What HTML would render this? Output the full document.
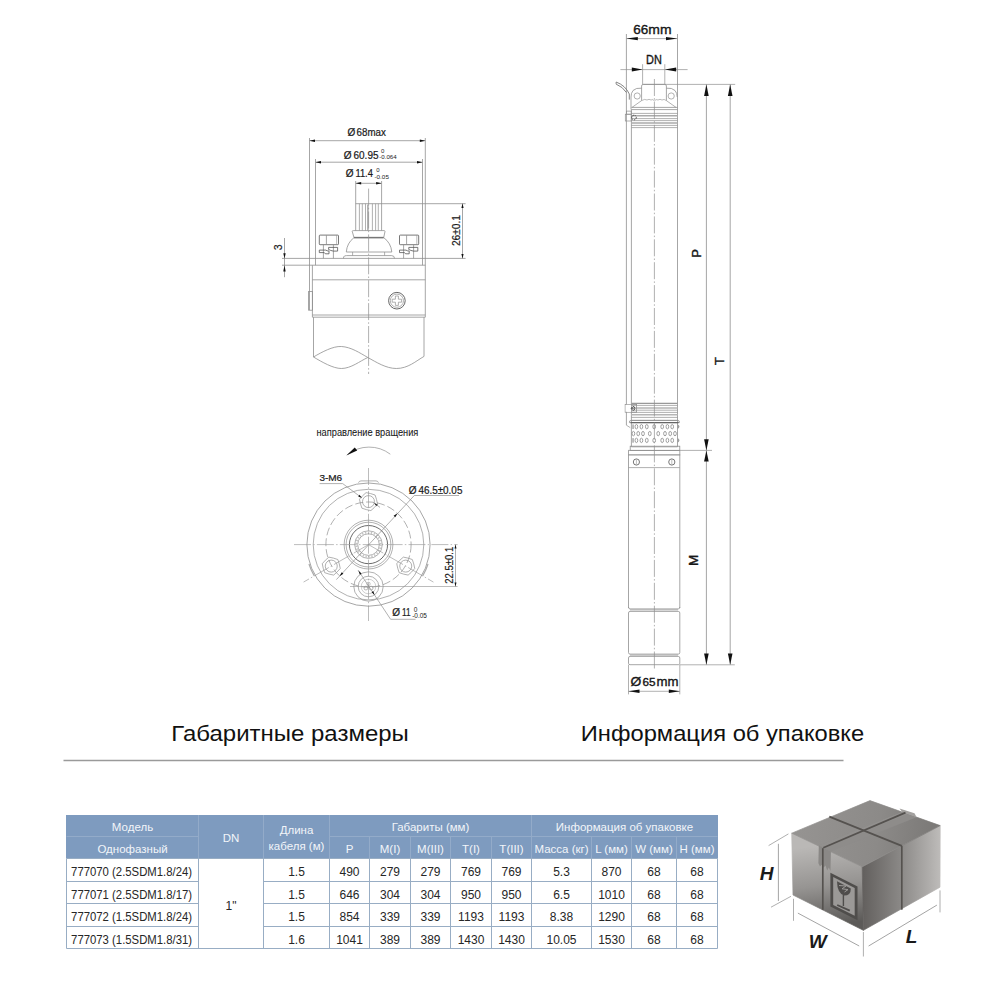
<!DOCTYPE html>
<html><head><meta charset="utf-8"><style>
html,body{margin:0;padding:0;background:#fff;width:1000px;height:1000px;overflow:hidden}
svg{position:absolute;left:0;top:0;font-family:"Liberation Sans",sans-serif}
.h{fill:#f2f5f9;font-size:11.5px;text-anchor:middle}
.b{fill:#262626;font-size:12px;text-anchor:middle}
.ttl{fill:#111;font-size:22.5px}
.d{fill:#1a1a1a}
.it{font-style:italic}
.hv{stroke:#1a1a1a;stroke-width:0.2}
.hv1{stroke:#1a1a1a;stroke-width:0.08}
.hv2{stroke:#111;stroke-width:0.35}
</style></head><body>
<svg width="1000" height="1000" viewBox="0 0 1000 1000">
<text x="171.3" y="741" class="ttl" textLength="237.5" lengthAdjust="spacingAndGlyphs">Габаритные размеры</text>
<text x="580.8" y="741" class="ttl" textLength="283.4" lengthAdjust="spacingAndGlyphs">Информация об упаковке</text>
<line x1="63.5" y1="760.5" x2="843.5" y2="760.5" stroke="#9a9a9a" stroke-width="1.4"/>
<rect x="66" y="815" width="652" height="43.5" fill="#7e9bbf"/>
<line x1="66.5" y1="836.5" x2="198.5" y2="836.5" stroke="#93abc9" stroke-width="1"/>
<line x1="329.5" y1="836.5" x2="717.5" y2="836.5" stroke="#93abc9" stroke-width="1"/>
<line x1="198.5" y1="815" x2="198.5" y2="858.5" stroke="#93abc9" stroke-width="1"/>
<line x1="263.5" y1="815" x2="263.5" y2="858.5" stroke="#93abc9" stroke-width="1"/>
<line x1="329.5" y1="815" x2="329.5" y2="858.5" stroke="#93abc9" stroke-width="1"/>
<line x1="531.5" y1="815" x2="531.5" y2="858.5" stroke="#93abc9" stroke-width="1"/>
<line x1="369.5" y1="836.5" x2="369.5" y2="858.5" stroke="#93abc9" stroke-width="1"/>
<line x1="410.5" y1="836.5" x2="410.5" y2="858.5" stroke="#93abc9" stroke-width="1"/>
<line x1="450.5" y1="836.5" x2="450.5" y2="858.5" stroke="#93abc9" stroke-width="1"/>
<line x1="491.5" y1="836.5" x2="491.5" y2="858.5" stroke="#93abc9" stroke-width="1"/>
<line x1="591.5" y1="836.5" x2="591.5" y2="858.5" stroke="#93abc9" stroke-width="1"/>
<line x1="631.5" y1="836.5" x2="631.5" y2="858.5" stroke="#93abc9" stroke-width="1"/>
<line x1="676.5" y1="836.5" x2="676.5" y2="858.5" stroke="#93abc9" stroke-width="1"/>
<line x1="66.5" y1="858.5" x2="717.5" y2="858.5" stroke="#98adc4" stroke-width="1"/>
<line x1="66.5" y1="881.5" x2="198.5" y2="881.5" stroke="#98adc4" stroke-width="1"/>
<line x1="263.5" y1="881.5" x2="717.5" y2="881.5" stroke="#98adc4" stroke-width="1"/>
<line x1="66.5" y1="903.5" x2="198.5" y2="903.5" stroke="#98adc4" stroke-width="1"/>
<line x1="263.5" y1="903.5" x2="717.5" y2="903.5" stroke="#98adc4" stroke-width="1"/>
<line x1="66.5" y1="926.5" x2="198.5" y2="926.5" stroke="#98adc4" stroke-width="1"/>
<line x1="263.5" y1="926.5" x2="717.5" y2="926.5" stroke="#98adc4" stroke-width="1"/>
<line x1="66.5" y1="948.5" x2="717.5" y2="948.5" stroke="#98adc4" stroke-width="1"/>
<line x1="66.5" y1="858.5" x2="66.5" y2="948.5" stroke="#98adc4" stroke-width="1"/>
<line x1="198.5" y1="858.5" x2="198.5" y2="948.5" stroke="#98adc4" stroke-width="1"/>
<line x1="263.5" y1="858.5" x2="263.5" y2="948.5" stroke="#98adc4" stroke-width="1"/>
<line x1="329.5" y1="858.5" x2="329.5" y2="948.5" stroke="#98adc4" stroke-width="1"/>
<line x1="369.5" y1="858.5" x2="369.5" y2="948.5" stroke="#98adc4" stroke-width="1"/>
<line x1="410.5" y1="858.5" x2="410.5" y2="948.5" stroke="#98adc4" stroke-width="1"/>
<line x1="450.5" y1="858.5" x2="450.5" y2="948.5" stroke="#98adc4" stroke-width="1"/>
<line x1="491.5" y1="858.5" x2="491.5" y2="948.5" stroke="#98adc4" stroke-width="1"/>
<line x1="531.5" y1="858.5" x2="531.5" y2="948.5" stroke="#98adc4" stroke-width="1"/>
<line x1="591.5" y1="858.5" x2="591.5" y2="948.5" stroke="#98adc4" stroke-width="1"/>
<line x1="631.5" y1="858.5" x2="631.5" y2="948.5" stroke="#98adc4" stroke-width="1"/>
<line x1="676.5" y1="858.5" x2="676.5" y2="948.5" stroke="#98adc4" stroke-width="1"/>
<line x1="717.5" y1="858.5" x2="717.5" y2="948.5" stroke="#98adc4" stroke-width="1"/>
<text x="132.5" y="830.8" class="h">Модель</text>
<text x="132.5" y="852.5" class="h">Однофазный</text>
<text x="231.0" y="841.8" class="h">DN</text>
<text x="296.5" y="834.4" class="h">Длина</text>
<text x="296.5" y="849.8" class="h">кабеля (м)</text>
<text x="430.5" y="830.8" class="h">Габариты (мм)</text>
<text x="624.5" y="830.8" class="h">Информация об упаковке</text>
<text x="349.5" y="852.5" class="h">P</text>
<text x="390.0" y="852.5" class="h">M(I)</text>
<text x="430.5" y="852.5" class="h">M(III)</text>
<text x="471.0" y="852.5" class="h">T(I)</text>
<text x="511.5" y="852.5" class="h">T(III)</text>
<text x="561.5" y="852.5" class="h">Масса (кг)</text>
<text x="611.5" y="852.5" class="h">L (мм)</text>
<text x="654.0" y="852.5" class="h">W (мм)</text>
<text x="697.0" y="852.5" class="h">H (мм)</text>
<text x="71.1" y="876.2" class="b" style="text-anchor:start" textLength="121" lengthAdjust="spacingAndGlyphs">777070 (2.5SDM1.8/24)</text>
<text x="296.5" y="876.2" class="b">1.5</text>
<text x="349.5" y="876.2" class="b">490</text>
<text x="390.0" y="876.2" class="b">279</text>
<text x="430.5" y="876.2" class="b">279</text>
<text x="471.0" y="876.2" class="b">769</text>
<text x="511.5" y="876.2" class="b">769</text>
<text x="561.5" y="876.2" class="b">5.3</text>
<text x="611.5" y="876.2" class="b">870</text>
<text x="654.0" y="876.2" class="b">68</text>
<text x="697.0" y="876.2" class="b">68</text>
<text x="71.1" y="898.7" class="b" style="text-anchor:start" textLength="121" lengthAdjust="spacingAndGlyphs">777071 (2.5SDM1.8/17)</text>
<text x="296.5" y="898.7" class="b">1.5</text>
<text x="349.5" y="898.7" class="b">646</text>
<text x="390.0" y="898.7" class="b">304</text>
<text x="430.5" y="898.7" class="b">304</text>
<text x="471.0" y="898.7" class="b">950</text>
<text x="511.5" y="898.7" class="b">950</text>
<text x="561.5" y="898.7" class="b">6.5</text>
<text x="611.5" y="898.7" class="b">1010</text>
<text x="654.0" y="898.7" class="b">68</text>
<text x="697.0" y="898.7" class="b">68</text>
<text x="71.1" y="921.2" class="b" style="text-anchor:start" textLength="121" lengthAdjust="spacingAndGlyphs">777072 (1.5SDM1.8/24)</text>
<text x="296.5" y="921.2" class="b">1.5</text>
<text x="349.5" y="921.2" class="b">854</text>
<text x="390.0" y="921.2" class="b">339</text>
<text x="430.5" y="921.2" class="b">339</text>
<text x="471.0" y="921.2" class="b">1193</text>
<text x="511.5" y="921.2" class="b">1193</text>
<text x="561.5" y="921.2" class="b">8.38</text>
<text x="611.5" y="921.2" class="b">1290</text>
<text x="654.0" y="921.2" class="b">68</text>
<text x="697.0" y="921.2" class="b">68</text>
<text x="71.1" y="943.7" class="b" style="text-anchor:start" textLength="121" lengthAdjust="spacingAndGlyphs">777073 (1.5SDM1.8/31)</text>
<text x="296.5" y="943.7" class="b">1.6</text>
<text x="349.5" y="943.7" class="b">1041</text>
<text x="390.0" y="943.7" class="b">389</text>
<text x="430.5" y="943.7" class="b">389</text>
<text x="471.0" y="943.7" class="b">1430</text>
<text x="511.5" y="943.7" class="b">1430</text>
<text x="561.5" y="943.7" class="b">10.05</text>
<text x="611.5" y="943.7" class="b">1530</text>
<text x="654.0" y="943.7" class="b">68</text>
<text x="697.0" y="943.7" class="b">68</text>
<text x="231.0" y="909.7" class="b">1"</text>
<line x1="309.50" y1="140.70" x2="425.30" y2="140.70" stroke="#8f8f8f" stroke-width="0.8" />
<polygon points="309.50,140.70 315.00,139.40 315.00,142.00" fill="#111"/>
<polygon points="425.30,140.70 419.80,142.00 419.80,139.40" fill="#111"/>
<line x1="315.50" y1="162.20" x2="422.50" y2="162.20" stroke="#8f8f8f" stroke-width="0.8" />
<polygon points="315.50,162.20 321.00,160.90 321.00,163.50" fill="#111"/>
<polygon points="422.50,162.20 417.00,163.50 417.00,160.90" fill="#111"/>
<line x1="355.70" y1="183.30" x2="381.60" y2="183.30" stroke="#8f8f8f" stroke-width="0.8" />
<polygon points="355.70,183.30 361.20,182.00 361.20,184.60" fill="#111"/>
<polygon points="381.60,183.30 376.10,184.60 376.10,182.00" fill="#111"/>
<line x1="309.50" y1="138.00" x2="309.50" y2="310.00" stroke="#8f8f8f" stroke-width="0.8" />
<line x1="315.50" y1="159.00" x2="315.50" y2="265.20" stroke="#8f8f8f" stroke-width="0.8" />
<line x1="312.40" y1="265.20" x2="312.40" y2="317.20" stroke="#8f8f8f" stroke-width="0.8" />
<line x1="422.50" y1="159.00" x2="422.50" y2="265.20" stroke="#8f8f8f" stroke-width="0.8" />
<line x1="425.30" y1="138.00" x2="425.30" y2="317.20" stroke="#8f8f8f" stroke-width="0.8" />
<rect x="308.60" y="291.50" width="3.80" height="18.70" rx="0" stroke="#8f8f8f" stroke-width="0.8" fill="none"/>
<line x1="355.70" y1="181.00" x2="355.70" y2="230.60" stroke="#8f8f8f" stroke-width="0.8" />
<line x1="381.60" y1="181.00" x2="381.60" y2="230.60" stroke="#8f8f8f" stroke-width="0.8" />
<line x1="355.70" y1="203.70" x2="465.60" y2="203.70" stroke="#8f8f8f" stroke-width="0.8" />
<line x1="359.40" y1="203.70" x2="359.40" y2="230.60" stroke="#8f8f8f" stroke-width="0.7" />
<line x1="362.30" y1="203.70" x2="362.30" y2="230.60" stroke="#8f8f8f" stroke-width="0.7" />
<line x1="365.50" y1="203.70" x2="365.50" y2="230.60" stroke="#8f8f8f" stroke-width="0.7" />
<line x1="372.40" y1="203.70" x2="372.40" y2="230.60" stroke="#8f8f8f" stroke-width="0.7" />
<line x1="375.60" y1="203.70" x2="375.60" y2="230.60" stroke="#8f8f8f" stroke-width="0.7" />
<line x1="378.30" y1="203.70" x2="378.30" y2="230.60" stroke="#8f8f8f" stroke-width="0.7" />
<line x1="367.90" y1="204.50" x2="367.90" y2="230.60" stroke="#aaa" stroke-width="1.6" />
<path d="M352.2,231.2 Q352.2,230.6 353.5,230.6 L384,230.6 Q385,230.6 385,231.5 L383.7,237.6 L354,237.6 Z" stroke="#8f8f8f" stroke-width="0.8" fill="none" />
<line x1="354.00" y1="237.60" x2="383.70" y2="237.60" stroke="#777" stroke-width="1.5" />
<path d="M354,237.6 Q347,243 346.3,252 L391.8,252 Q391,243 383.7,237.6" stroke="#8f8f8f" stroke-width="0.8" fill="none" />
<line x1="352.60" y1="252.00" x2="352.60" y2="255.60" stroke="#8f8f8f" stroke-width="0.7" />
<line x1="384.60" y1="252.00" x2="384.60" y2="255.60" stroke="#8f8f8f" stroke-width="0.7" />
<path d="M343.6,258.4 L343.6,257 Q344,255.6 346.5,255.6 L391.6,255.6 Q394.5,255.6 394.5,258.4" stroke="#8f8f8f" stroke-width="0.8" fill="none" />
<rect x="319.30" y="235.10" width="19.20" height="9.60" rx="0.8" stroke="#555" stroke-width="0.8" fill="none"/>
<line x1="326.40" y1="235.10" x2="326.40" y2="244.70" stroke="#8f8f8f" stroke-width="0.8" />
<line x1="336.60" y1="235.10" x2="336.60" y2="244.70" stroke="#8f8f8f" stroke-width="0.6" />
<line x1="323.40" y1="244.70" x2="323.40" y2="258.40" stroke="#8f8f8f" stroke-width="0.8" />
<line x1="333.40" y1="244.70" x2="333.40" y2="258.40" stroke="#8f8f8f" stroke-width="0.8" />
<path d="M319.30,250.1 L325.80,250.1 Q326.80,251 329.00,251 L329.00,253.8 L325.30,253.8 L324.30,252.6 L319.30,252.6 Z" stroke="#555" stroke-width="0.8" fill="none" />
<path d="M328.60,247.4 L337.60,247.4 L337.60,251.1 L333.30,251.1 Q330.30,250.5 328.60,249.5 Z" stroke="#555" stroke-width="0.8" fill="none" />
<rect x="399.50" y="235.10" width="19.20" height="9.60" rx="0.8" stroke="#555" stroke-width="0.8" fill="none"/>
<line x1="406.60" y1="235.10" x2="406.60" y2="244.70" stroke="#8f8f8f" stroke-width="0.8" />
<line x1="416.80" y1="235.10" x2="416.80" y2="244.70" stroke="#8f8f8f" stroke-width="0.6" />
<line x1="403.60" y1="244.70" x2="403.60" y2="258.40" stroke="#8f8f8f" stroke-width="0.8" />
<line x1="413.60" y1="244.70" x2="413.60" y2="258.40" stroke="#8f8f8f" stroke-width="0.8" />
<path d="M399.50,250.1 L406.00,250.1 Q407.00,251 409.20,251 L409.20,253.8 L405.50,253.8 L404.50,252.6 L399.50,252.6 Z" stroke="#555" stroke-width="0.8" fill="none" />
<path d="M408.80,247.4 L417.80,247.4 L417.80,251.1 L413.50,251.1 Q410.50,250.5 408.80,249.5 Z" stroke="#555" stroke-width="0.8" fill="none" />
<line x1="282.00" y1="258.40" x2="465.60" y2="258.40" stroke="#8f8f8f" stroke-width="0.8" />
<line x1="282.00" y1="265.20" x2="425.30" y2="265.20" stroke="#8f8f8f" stroke-width="0.8" />
<line x1="284.50" y1="238.00" x2="284.50" y2="277.20" stroke="#8f8f8f" stroke-width="0.8" />
<polygon points="284.50,258.40 283.30,253.20 285.70,253.20" fill="#111"/>
<polygon points="284.50,265.20 285.70,271.60 283.30,271.60" fill="#111"/>
<text x="281.80" y="247.30" font-size="10.5" class="d hv" text-anchor="middle" transform="rotate(-90 281.80 247.30)">3</text>
<line x1="462.50" y1="203.40" x2="462.50" y2="258.40" stroke="#8f8f8f" stroke-width="0.8" />
<polygon points="462.50,203.40 463.60,207.90 461.40,207.90" fill="#111"/>
<polygon points="462.50,258.40 461.40,253.90 463.60,253.90" fill="#111"/>
<text x="459.60" y="230.60" font-size="10.5" class="d hv" text-anchor="middle" textLength="31" lengthAdjust="spacingAndGlyphs" transform="rotate(-90 459.60 230.60)">26±0.1</text>
<line x1="312.40" y1="279.80" x2="425.30" y2="279.80" stroke="#8f8f8f" stroke-width="0.8" />
<line x1="312.40" y1="315.00" x2="425.30" y2="315.00" stroke="#8f8f8f" stroke-width="0.8" />
<line x1="312.40" y1="317.20" x2="425.30" y2="317.20" stroke="#8f8f8f" stroke-width="0.8" />
<line x1="313.50" y1="317.20" x2="313.50" y2="357.00" stroke="#8f8f8f" stroke-width="0.8" />
<line x1="424.00" y1="317.20" x2="424.00" y2="356.40" stroke="#8f8f8f" stroke-width="0.8" />
<path d="M313.5,357 C322,352 333,346 341.4,346.5 C351,347 360,353 367.8,357.5 C376,362 386,368.5 396.4,368.5 C408,368.5 416,361 424,356.4" stroke="#8f8f8f" stroke-width="0.8" fill="none" />
<path d="M313.5,357 C322,362 333,368.5 341.4,368.5 C351,368.5 360,361 367.8,357.5" stroke="#8f8f8f" stroke-width="0.8" fill="none" />
<circle cx="396.90" cy="300.70" r="8.30" stroke="#555" stroke-width="0.9" fill="none" />
<circle cx="396.90" cy="300.70" r="6.60" stroke="#8f8f8f" stroke-width="0.7" fill="none" />
<path d="M395.4,296 L398.4,296 L398.4,299.2 L401.6,299.2 L401.6,302.2 L398.4,302.2 L398.4,305.4 L395.4,305.4 L395.4,302.2 L392.2,302.2 L392.2,299.2 L395.4,299.2 Z" stroke="#8f8f8f" stroke-width="0.7" fill="none" />
<line x1="368.60" y1="188.60" x2="368.60" y2="374.00" stroke="#8f8f8f" stroke-width="0.7" stroke-dasharray="17 2.2 1.5 2.2"/>
<text x="347.40" y="136.40" font-size="10" class="d hv">Ø</text>
<text x="356.60" y="136.40" font-size="10" class="d hv" textLength="29.3" lengthAdjust="spacingAndGlyphs">68max</text>
<text x="343.70" y="158.50" font-size="10" class="d hv">Ø</text>
<text x="353.50" y="158.50" font-size="10.5" class="d hv" textLength="25" lengthAdjust="spacingAndGlyphs">60.95</text>
<text x="381.00" y="153.10" font-size="6" class="d">0</text>
<text x="379.30" y="159.40" font-size="6" class="d" textLength="17.4" lengthAdjust="spacingAndGlyphs">-0.064</text>
<text x="345.80" y="177.40" font-size="10" class="d hv">Ø</text>
<text x="355.40" y="177.40" font-size="10" class="d hv" textLength="17.5" lengthAdjust="spacingAndGlyphs">11.4</text>
<text x="376.20" y="171.70" font-size="6" class="d">0</text>
<text x="374.50" y="178.60" font-size="6.2" class="d" textLength="14.4" lengthAdjust="spacingAndGlyphs">-0.05</text>
<text x="316.50" y="436.00" font-size="10.3" class="d hv1" textLength="101.8" lengthAdjust="spacingAndGlyphs">направление вращения</text>
<path d="M347.5,454.6 A35 35 0 0 1 390.3,454.2" stroke="#8f8f8f" stroke-width="0.7" fill="none" />
<polygon points="346.3,455.6 354.8,447.6 357.2,450.4" fill="#111"/>
<text x="319.40" y="481.10" font-size="9.5" class="d hv" textLength="22.8" lengthAdjust="spacingAndGlyphs">3-M6</text>
<line x1="319.60" y1="483.60" x2="342.70" y2="483.60" stroke="#8f8f8f" stroke-width="0.7" />
<line x1="342.70" y1="483.60" x2="362.00" y2="498.00" stroke="#8f8f8f" stroke-width="0.7" />
<polygon points="362.00,498.00 358.20,496.41 359.39,494.81" fill="#111"/>
<line x1="373.50" y1="502.60" x2="380.00" y2="507.40" stroke="#8f8f8f" stroke-width="0.7" />
<polygon points="374.00,503.00 377.80,504.59 376.61,506.19" fill="#111"/>
<circle cx="368.50" cy="544.60" r="61.60" stroke="#8f8f8f" stroke-width="0.8" fill="none" />
<circle cx="368.50" cy="544.60" r="55.30" stroke="#8f8f8f" stroke-width="0.7" fill="none" />
<circle cx="368.50" cy="544.60" r="42.60" stroke="#8f8f8f" stroke-width="0.7" fill="none" stroke-dasharray="8 3"/>
<path d="M358.5,482.7 Q359,481 361,480.9 L376,480.9 Q378,481 378.5,482.7" stroke="#8f8f8f" stroke-width="0.7" fill="none" />
<polygon points="377.48,504.01 374.37,507.47 370.91,510.58 366.35,509.62 361.92,508.18 360.48,503.75 359.52,499.19 362.63,495.73 366.09,492.62 370.65,493.58 375.08,495.02 376.52,499.45" fill="none" stroke="#8f8f8f" stroke-width="0.7"/>
<circle cx="368.50" cy="501.60" r="6.00" stroke="#8f8f8f" stroke-width="0.7" fill="none" />
<polygon points="340.24,568.51 337.13,571.97 333.67,575.08 329.11,574.12 324.68,572.68 323.24,568.25 322.28,563.69 325.39,560.23 328.85,557.12 333.41,558.08 337.84,559.52 339.28,563.95" fill="none" stroke="#8f8f8f" stroke-width="0.7"/>
<circle cx="331.26" cy="566.10" r="6.00" stroke="#8f8f8f" stroke-width="0.7" fill="none" />
<polygon points="414.72,568.51 411.61,571.97 408.15,575.08 403.59,574.12 399.16,572.68 397.72,568.25 396.76,563.69 399.87,560.23 403.33,557.12 407.89,558.08 412.32,559.52 413.76,563.95" fill="none" stroke="#8f8f8f" stroke-width="0.7"/>
<circle cx="405.74" cy="566.10" r="6.00" stroke="#8f8f8f" stroke-width="0.7" fill="none" />
<circle cx="368.50" cy="544.60" r="24.40" stroke="#8f8f8f" stroke-width="0.7" fill="none" />
<circle cx="368.50" cy="544.60" r="22.40" stroke="#8f8f8f" stroke-width="0.7" fill="none" />
<circle cx="368.50" cy="544.60" r="19.10" stroke="#5a5a5a" stroke-width="0.9" fill="none" />
<circle cx="368.50" cy="544.60" r="13.80" stroke="#8f8f8f" stroke-width="0.7" fill="none" />
<circle cx="368.50" cy="544.60" r="12.30" stroke="#c4c4c4" stroke-width="2.2" fill="none" stroke-dasharray="1.3 1.7"/>
<circle cx="368.50" cy="544.60" r="10.80" stroke="#8f8f8f" stroke-width="0.7" fill="none" />
<circle cx="368.50" cy="586.50" r="14.70" stroke="#8f8f8f" stroke-width="0.7" fill="none" />
<circle cx="368.50" cy="586.50" r="10.30" stroke="#8f8f8f" stroke-width="0.7" fill="none" />
<circle cx="368.50" cy="586.50" r="7.30" stroke="#b0b0b0" stroke-width="0.6" fill="none" />
<circle cx="365.90" cy="588.10" r="1.90" stroke="#888" stroke-width="0.6" fill="none" />
<circle cx="371.10" cy="588.10" r="1.90" stroke="#888" stroke-width="0.6" fill="none" />
<circle cx="368.50" cy="583.90" r="1.70" stroke="#999" stroke-width="0.6" fill="none" />
<line x1="294.00" y1="544.60" x2="457.60" y2="544.60" stroke="#8f8f8f" stroke-width="0.6" stroke-dasharray="17 2.2 1.5 2.2"/>
<line x1="368.50" y1="468.00" x2="368.50" y2="621.00" stroke="#8f8f8f" stroke-width="0.6" stroke-dasharray="17 2.2 1.5 2.2"/>
<line x1="368.50" y1="544.60" x2="303.55" y2="582.10" stroke="#8f8f8f" stroke-width="0.6" stroke-dasharray="17 2.2 1.5 2.2"/>
<line x1="368.50" y1="544.60" x2="433.45" y2="582.10" stroke="#8f8f8f" stroke-width="0.6" stroke-dasharray="17 2.2 1.5 2.2"/>
<path d="M308.96,563.94 A62.6 62.6 0 0 0 314.29,575.90" stroke="#aaa" stroke-width="1.2" fill="none" />
<path d="M422.71,575.90 A62.6 62.6 0 0 0 428.04,563.94" stroke="#aaa" stroke-width="1.2" fill="none" />
<line x1="336.40" y1="579.60" x2="414.40" y2="495.40" stroke="#8f8f8f" stroke-width="0.7" />
<line x1="414.40" y1="495.50" x2="459.00" y2="495.50" stroke="#8f8f8f" stroke-width="0.7" />
<polygon points="397.50,513.30 395.25,517.35 393.63,515.85" fill="#111"/>
<polygon points="339.50,576.20 341.75,572.15 343.37,573.65" fill="#111"/>
<text x="408.70" y="493.70" font-size="10" class="d hv">Ø</text>
<text x="418.40" y="493.70" font-size="10.5" class="d hv" textLength="44" lengthAdjust="spacingAndGlyphs">46.5±0.05</text>
<line x1="350.00" y1="586.50" x2="457.60" y2="586.50" stroke="#8f8f8f" stroke-width="0.6" />
<line x1="455.50" y1="544.60" x2="455.50" y2="586.50" stroke="#8f8f8f" stroke-width="0.7" />
<polygon points="455.50,544.60 456.50,548.60 454.50,548.60" fill="#111"/>
<polygon points="455.50,586.50 454.50,582.50 456.50,582.50" fill="#111"/>
<text x="452.60" y="565.20" font-size="10" class="d hv" text-anchor="middle" textLength="37" lengthAdjust="spacingAndGlyphs" transform="rotate(-90 452.60 565.20)">22.5±0.1</text>
<line x1="358.00" y1="570.00" x2="390.60" y2="619.30" stroke="#8f8f8f" stroke-width="0.7" />
<line x1="390.60" y1="619.30" x2="415.50" y2="619.30" stroke="#8f8f8f" stroke-width="0.7" />
<polygon points="358.50,570.80 361.54,573.59 359.87,574.69" fill="#111"/>
<polygon points="374.60,595.00 371.56,592.21 373.23,591.11" fill="#111"/>
<text x="392.30" y="615.80" font-size="10" class="d hv">Ø</text>
<text x="402.00" y="615.80" font-size="10.5" class="d hv" textLength="8.6" lengthAdjust="spacingAndGlyphs">11</text>
<text x="413.80" y="611.50" font-size="6.5" class="d">0</text>
<text x="412.20" y="617.80" font-size="7" class="d" textLength="14.8" lengthAdjust="spacingAndGlyphs">-0.05</text>
<line x1="626.40" y1="38.60" x2="677.40" y2="38.60" stroke="#8f8f8f" stroke-width="0.7" />
<polygon points="626.40,38.60 637.80,36.90 637.80,40.30" fill="#111"/>
<polygon points="677.40,38.60 666.00,40.30 666.00,36.90" fill="#111"/>
<text x="633.30" y="33.80" font-size="12" class="d hv2" textLength="15" lengthAdjust="spacingAndGlyphs">66</text>
<text x="648.30" y="33.80" font-size="13.5" class="d hv2" textLength="23.2" lengthAdjust="spacingAndGlyphs">mm</text>
<line x1="620.40" y1="69.60" x2="687.60" y2="69.60" stroke="#8f8f8f" stroke-width="0.7" />
<polygon points="642.60,69.60 631.80,71.60 631.80,67.60" fill="#111"/>
<polygon points="664.80,69.60 676.20,67.60 676.20,71.60" fill="#111"/>
<line x1="642.60" y1="64.20" x2="642.60" y2="84.40" stroke="#8f8f8f" stroke-width="0.7" />
<line x1="664.80" y1="64.20" x2="664.80" y2="84.40" stroke="#8f8f8f" stroke-width="0.7" />
<text x="646.10" y="64.20" font-size="12.6" class="d hv2" textLength="15.8" lengthAdjust="spacingAndGlyphs">DN</text>
<line x1="626.40" y1="34.00" x2="626.40" y2="425.20" stroke="#8f8f8f" stroke-width="0.8" />
<line x1="626.40" y1="425.20" x2="630.20" y2="427.60" stroke="#8f8f8f" stroke-width="0.7" />
<line x1="677.50" y1="34.00" x2="677.50" y2="446.80" stroke="#8f8f8f" stroke-width="0.8" />
<line x1="631.40" y1="109.40" x2="631.40" y2="446.80" stroke="#8f8f8f" stroke-width="0.8" />
<line x1="643.20" y1="84.40" x2="735.20" y2="84.40" stroke="#8f8f8f" stroke-width="0.7" />
<path d="M641.6,100.6 L641.6,86 Q641.6,84.4 643.2,84.4 L664.8,84.4 Q666.4,84.4 666.4,86 L666.4,100.6" stroke="#8f8f8f" stroke-width="0.8" fill="none" />
<path d="M641.6,100.6 Q645,98.5 647,100 Q649,98.6 651,100 Q653,98.6 654.4,101 Q656,98.6 658,100 Q660,98.6 662,100 Q664,98.6 666.4,100.6" stroke="#8f8f8f" stroke-width="0.6" fill="none" />
<path d="M641.6,88.2 Q636,87.6 633,90.5 Q631,93 631,97 L631,109.4" stroke="#8f8f8f" stroke-width="0.8" fill="none" />
<path d="M666.4,88.2 Q672,87.6 675,90.5 Q677.2,93 677.2,97" stroke="#8f8f8f" stroke-width="0.8" fill="none" />
<circle cx="637.20" cy="96.00" r="3.10" stroke="#8f8f8f" stroke-width="0.7" fill="none" />
<circle cx="671.20" cy="96.00" r="3.10" stroke="#8f8f8f" stroke-width="0.7" fill="none" />
<line x1="641.60" y1="100.60" x2="632.00" y2="107.40" stroke="#8f8f8f" stroke-width="0.7" />
<line x1="666.40" y1="100.60" x2="676.00" y2="107.40" stroke="#8f8f8f" stroke-width="0.7" />
<line x1="631.40" y1="107.40" x2="677.50" y2="107.40" stroke="#8f8f8f" stroke-width="0.8" />
<line x1="631.40" y1="109.60" x2="677.50" y2="109.60" stroke="#8f8f8f" stroke-width="0.8" />
<line x1="631.40" y1="113.40" x2="677.50" y2="113.40" stroke="#8f8f8f" stroke-width="0.7" />
<line x1="631.40" y1="115.80" x2="677.50" y2="115.80" stroke="#aaa" stroke-width="1.4" />
<line x1="631.40" y1="118.60" x2="677.50" y2="118.60" stroke="#8f8f8f" stroke-width="0.7" />
<line x1="631.40" y1="120.60" x2="677.50" y2="120.60" stroke="#8f8f8f" stroke-width="0.7" />
<line x1="631.40" y1="123.00" x2="677.50" y2="123.00" stroke="#aaa" stroke-width="1.4" />
<line x1="631.40" y1="125.40" x2="677.50" y2="125.40" stroke="#8f8f8f" stroke-width="0.7" />
<line x1="631.40" y1="127.60" x2="677.50" y2="127.60" stroke="#8f8f8f" stroke-width="0.7" />
<path d="M616.1,82 Q625.5,85.5 629.3,94 L629.3,99.6" stroke="#777" stroke-width="0.9" fill="none" />
<path d="M616.1,84.1 Q623,87 626.4,92.5" stroke="#777" stroke-width="0.9" fill="none" />
<line x1="616.10" y1="82.00" x2="616.10" y2="84.10" stroke="#777" stroke-width="0.8" />
<rect x="625.30" y="114.20" width="5.90" height="6.80" rx="0" stroke="#8f8f8f" stroke-width="0.7" fill="none"/>
<rect x="626.40" y="111.10" width="4.80" height="3.10" rx="0" stroke="#8f8f8f" stroke-width="0.7" fill="none"/>
<circle cx="634.00" cy="117.50" r="2.30" stroke="#333" stroke-width="0.9" fill="none" stroke-dasharray="1.2 0.9"/>
<line x1="631.40" y1="403.40" x2="677.50" y2="403.40" stroke="#999" stroke-width="1.2" />
<line x1="631.40" y1="405.40" x2="677.50" y2="405.40" stroke="#8f8f8f" stroke-width="0.7" />
<line x1="631.40" y1="408.00" x2="677.50" y2="408.00" stroke="#b5b5b5" stroke-width="1.6" />
<line x1="631.40" y1="410.20" x2="677.50" y2="410.20" stroke="#8f8f8f" stroke-width="0.7" />
<line x1="631.40" y1="412.40" x2="677.50" y2="412.40" stroke="#8f8f8f" stroke-width="0.7" />
<line x1="631.40" y1="414.80" x2="677.50" y2="414.80" stroke="#b5b5b5" stroke-width="1.6" />
<line x1="631.40" y1="417.40" x2="677.50" y2="417.40" stroke="#8f8f8f" stroke-width="0.7" />
<line x1="631.40" y1="420.40" x2="677.50" y2="420.40" stroke="#8f8f8f" stroke-width="0.8" />
<rect x="625.20" y="404.40" width="11.40" height="7.80" rx="0" stroke="#8f8f8f" stroke-width="0.8" fill="none"/>
<rect x="625.6" y="404.8" width="5.4" height="7" fill="#fff"/>
<path d="M632.6,406.2 A2.2 2.2 0 0 1 632.6,410.6" stroke="#555" stroke-width="0.9" fill="none" />
<circle cx="632.10" cy="408.40" r="0.90" stroke="#111" stroke-width="0.6" fill="none" />
<path d="M629.4,422.6 Q629.2,420.4 631,420.4 L678,420.4 Q679.6,420.4 679.4,422.6 Z" stroke="#8f8f8f" stroke-width="0.8" fill="none" />
<line x1="630.60" y1="422.60" x2="678.60" y2="422.60" stroke="#666" stroke-width="1.1" />
<ellipse cx="636.40" cy="426.70" rx="1.35" ry="2.2" fill="none" stroke="#7a7a7a" stroke-width="0.7"/>
<ellipse cx="641.40" cy="426.70" rx="1.35" ry="2.2" fill="none" stroke="#7a7a7a" stroke-width="0.7"/>
<ellipse cx="646.80" cy="426.70" rx="1.35" ry="2.2" fill="none" stroke="#7a7a7a" stroke-width="0.7"/>
<ellipse cx="654.20" cy="426.70" rx="1.35" ry="2.2" fill="none" stroke="#7a7a7a" stroke-width="0.7"/>
<ellipse cx="662.20" cy="426.70" rx="1.35" ry="2.2" fill="none" stroke="#7a7a7a" stroke-width="0.7"/>
<ellipse cx="667.40" cy="426.70" rx="1.35" ry="2.2" fill="none" stroke="#7a7a7a" stroke-width="0.7"/>
<ellipse cx="672.20" cy="426.70" rx="1.35" ry="2.2" fill="none" stroke="#7a7a7a" stroke-width="0.7"/>
<ellipse cx="633.40" cy="433.60" rx="1.35" ry="2.2" fill="none" stroke="#7a7a7a" stroke-width="0.7"/>
<ellipse cx="638.20" cy="433.60" rx="1.35" ry="2.2" fill="none" stroke="#7a7a7a" stroke-width="0.7"/>
<ellipse cx="643.00" cy="433.60" rx="1.35" ry="2.2" fill="none" stroke="#7a7a7a" stroke-width="0.7"/>
<ellipse cx="649.80" cy="433.60" rx="1.35" ry="2.2" fill="none" stroke="#7a7a7a" stroke-width="0.7"/>
<ellipse cx="658.20" cy="433.60" rx="1.35" ry="2.2" fill="none" stroke="#7a7a7a" stroke-width="0.7"/>
<ellipse cx="665.00" cy="433.60" rx="1.35" ry="2.2" fill="none" stroke="#7a7a7a" stroke-width="0.7"/>
<ellipse cx="670.20" cy="433.60" rx="1.35" ry="2.2" fill="none" stroke="#7a7a7a" stroke-width="0.7"/>
<ellipse cx="675.00" cy="433.60" rx="1.35" ry="2.2" fill="none" stroke="#7a7a7a" stroke-width="0.7"/>
<ellipse cx="636.40" cy="440.40" rx="1.35" ry="2.2" fill="none" stroke="#7a7a7a" stroke-width="0.7"/>
<ellipse cx="641.40" cy="440.40" rx="1.35" ry="2.2" fill="none" stroke="#7a7a7a" stroke-width="0.7"/>
<ellipse cx="646.80" cy="440.40" rx="1.35" ry="2.2" fill="none" stroke="#7a7a7a" stroke-width="0.7"/>
<ellipse cx="654.20" cy="440.40" rx="1.35" ry="2.2" fill="none" stroke="#7a7a7a" stroke-width="0.7"/>
<ellipse cx="662.20" cy="440.40" rx="1.35" ry="2.2" fill="none" stroke="#7a7a7a" stroke-width="0.7"/>
<ellipse cx="667.40" cy="440.40" rx="1.35" ry="2.2" fill="none" stroke="#7a7a7a" stroke-width="0.7"/>
<ellipse cx="672.20" cy="440.40" rx="1.35" ry="2.2" fill="none" stroke="#7a7a7a" stroke-width="0.7"/>
<rect x="632.3" y="424.4" width="1.5" height="4.6" fill="#aaa"/>
<rect x="632.3" y="438.1" width="1.5" height="4.6" fill="#aaa"/>
<path d="M677.2,424.1 Q681.8,426.7 677.2,429.3 Z" fill="#a0a0a0"/>
<path d="M677.2,437.8 Q681.8,440.4 677.2,443 Z" fill="#a0a0a0"/>
<line x1="631.40" y1="446.80" x2="677.50" y2="446.80" stroke="#8f8f8f" stroke-width="0.8" />
<rect x="630.20" y="446.20" width="49.60" height="4.20" rx="0" stroke="#8f8f8f" stroke-width="0.8" fill="none"/>
<line x1="628.20" y1="450.40" x2="680.20" y2="450.40" stroke="#8f8f8f" stroke-width="0.8" />
<line x1="628.20" y1="454.80" x2="680.20" y2="454.80" stroke="#999" stroke-width="1.3" />
<line x1="628.50" y1="450.40" x2="628.50" y2="608.00" stroke="#8f8f8f" stroke-width="0.8" />
<line x1="679.80" y1="450.40" x2="679.80" y2="608.00" stroke="#8f8f8f" stroke-width="0.8" />
<circle cx="636.40" cy="462.00" r="3.10" stroke="#555" stroke-width="0.8" fill="none" />
<circle cx="671.80" cy="462.00" r="3.10" stroke="#555" stroke-width="0.8" fill="none" />
<line x1="636.40" y1="459.50" x2="636.40" y2="464.50" stroke="#8f8f8f" stroke-width="0.6" />
<line x1="671.80" y1="459.50" x2="671.80" y2="464.50" stroke="#8f8f8f" stroke-width="0.6" />
<line x1="628.50" y1="467.60" x2="679.80" y2="467.60" stroke="#8f8f8f" stroke-width="0.7" />
<path d="M628.5,607 Q628.5,608.9 630,608.9 L678.3,608.9 Q679.8,608.9 679.8,607" stroke="#8f8f8f" stroke-width="0.8" fill="none" />
<line x1="629.90" y1="609.90" x2="678.00" y2="609.90" stroke="#8f8f8f" stroke-width="0.7" />
<path d="M628.5,613 Q628.5,611.4 630,611.4 L678.3,611.4 Q679.8,611.4 679.8,613 L679.8,652.5 Q679.8,654.1 678.3,654.1 L630,654.1 Q628.5,654.1 628.5,652.5 Z" stroke="#8f8f8f" stroke-width="0.8" fill="none" />
<line x1="629.90" y1="655.10" x2="678.00" y2="655.10" stroke="#8f8f8f" stroke-width="0.7" />
<path d="M628.5,658 Q628.5,656.4 630,656.4 L678.3,656.4 Q679.8,656.4 679.8,658 L679.8,663.2 Q679.8,664.7 678.3,664.7 L630,664.7 Q628.5,664.7 628.5,663.2 Z" stroke="#8f8f8f" stroke-width="0.8" fill="none" />
<line x1="654.40" y1="79.00" x2="654.40" y2="669.70" stroke="#8f8f8f" stroke-width="0.7" stroke-dasharray="17 2.2 1.5 2.2"/>
<line x1="706.40" y1="84.40" x2="706.40" y2="664.80" stroke="#8f8f8f" stroke-width="0.8" />
<line x1="730.20" y1="84.40" x2="730.20" y2="664.80" stroke="#8f8f8f" stroke-width="0.8" />
<polygon points="706.40,84.40 708.70,96.00 704.10,96.00" fill="#111"/>
<polygon points="730.20,84.40 732.50,96.00 727.90,96.00" fill="#111"/>
<polygon points="706.40,450.40 704.10,439.20 708.70,439.20" fill="#111"/>
<polygon points="706.40,450.40 708.70,461.60 704.10,461.60" fill="#111"/>
<polygon points="706.40,664.80 704.10,653.40 708.70,653.40" fill="#111"/>
<polygon points="730.20,664.80 727.90,653.40 732.50,653.40" fill="#111"/>
<line x1="680.20" y1="450.40" x2="712.00" y2="450.40" stroke="#8f8f8f" stroke-width="0.7" />
<line x1="679.80" y1="664.80" x2="734.80" y2="664.80" stroke="#8f8f8f" stroke-width="0.7" />
<text x="700.60" y="253.30" font-size="13" class="d hv2" text-anchor="middle" transform="rotate(-90 700.60 253.30)">P</text>
<text x="724.40" y="360.90" font-size="13" class="d hv2" text-anchor="middle" transform="rotate(-90 724.40 360.90)">T</text>
<text x="697.80" y="560.40" font-size="13.5" class="d hv2" text-anchor="middle" transform="rotate(-90 697.80 560.40)">M</text>
<line x1="628.50" y1="664.80" x2="628.50" y2="694.40" stroke="#8f8f8f" stroke-width="0.7" />
<line x1="679.80" y1="664.80" x2="679.80" y2="694.40" stroke="#8f8f8f" stroke-width="0.7" />
<line x1="628.50" y1="691.30" x2="679.80" y2="691.30" stroke="#8f8f8f" stroke-width="0.7" />
<polygon points="628.50,691.30 639.50,689.50 639.50,693.10" fill="#111"/>
<polygon points="679.80,691.30 668.80,693.10 668.80,689.50" fill="#111"/>
<text x="630.40" y="686.20" font-size="13" class="d hv2" textLength="10.8" lengthAdjust="spacingAndGlyphs">Ø</text>
<text x="642.40" y="685.90" font-size="10.5" class="d hv2" textLength="13" lengthAdjust="spacingAndGlyphs">65</text>
<text x="656.40" y="685.90" font-size="13.3" class="d hv2" textLength="22" lengthAdjust="spacingAndGlyphs">mm</text>
<defs>
<linearGradient id="gTop" x1="0" y1="0" x2="1" y2="1"><stop offset="0" stop-color="#8a8886"/><stop offset="0.5" stop-color="#97959300"/><stop offset="1" stop-color="#7d7b79"/></linearGradient>
<linearGradient id="gTop2" gradientUnits="userSpaceOnUse" x1="800" y1="820" x2="930" y2="840"><stop offset="0" stop-color="#959391"/><stop offset="0.6" stop-color="#8c8a88"/><stop offset="1" stop-color="#7c7a78"/></linearGradient>
<linearGradient id="gLeft" gradientUnits="userSpaceOnUse" x1="822" y1="845" x2="832" y2="925"><stop offset="0" stop-color="#bab8b6"/><stop offset="0.5" stop-color="#969492"/><stop offset="1" stop-color="#5c5a58"/></linearGradient>
<linearGradient id="gRight" gradientUnits="userSpaceOnUse" x1="862" y1="0" x2="940" y2="0"><stop offset="0" stop-color="#625f5d"/><stop offset="0.5" stop-color="#8b8987"/><stop offset="1" stop-color="#bdbbb9"/></linearGradient>
</defs>
<polygon points="791.7,833.2 862.2,866.8 863.4,930.3 793.0,895.0" fill="url(#gLeft)" stroke="url(#gLeft)" stroke-width="0.7" stroke-linejoin="round"/>
<polygon points="862.2,866.8 940.2,825.6 940.0,887.2 863.4,930.3" fill="url(#gRight)" stroke="url(#gRight)" stroke-width="0.7" stroke-linejoin="round"/>
<polygon points="870.0,800.6 940.2,825.6 862.2,866.8 791.7,833.2" fill="url(#gTop2)" stroke="url(#gTop2)" stroke-width="0.7" stroke-linejoin="round"/>
<polygon points="818.8,845.5 830.9,851.5 916.6,817.2 902.2,812.1" fill="#8e8c8a"/>
<polygon points="818.8,845.5 823.3,847.8 907.6,814.1 902.2,812.1" fill="#92908e"/>
<polygon points="902.2,812.1 916.6,817.2 914.5,813.2 899.5,808.6" fill="#a3a19f"/>
<polygon points="818.8,845.5 830.9,851.5 830.5,871.0 828.8,867.6 827.2,870.6 825.5,865.5 823.5,867.8 821.6,864.8 820.0,866.6 818.4,863.2" fill="#8a8886"/>
<line x1="829.30" y1="816.60" x2="901.80" y2="845.90" stroke="#55524f" stroke-width="1.7" />
<line x1="823.30" y1="847.80" x2="905.50" y2="812.60" stroke="#55524f" stroke-width="1.7" />
<line x1="901.80" y1="845.90" x2="901.80" y2="909.70" stroke="#55524f" stroke-width="1.7" />
<line x1="822.80" y1="848.20" x2="822.80" y2="909.80" stroke="#55524f" stroke-width="1.7" />
<polygon points="830.4,872.8 857.5,886.5 857.5,920.2 830.4,906.5" fill="#4f4d4b"/>
<polygon points="833.2,877.0 854.7,887.9 854.7,915.8 833.2,905.0" fill="#9b9997"/>
<path d="M837,881.3 L850.8,888.4 Q851,895.5 844,895.6 Q837.2,893 837,881.3 Z" fill="#4f4d4b"/>
<path d="M839,885.5 L846,886 L842,888.8 L848,889.6 L844.5,892" stroke="#9b9997" stroke-width="1" fill="none"/>
<line x1="843.40" y1="895.00" x2="843.40" y2="906.00" stroke="#4f4d4b" stroke-width="1.4" />
<line x1="837.20" y1="905.00" x2="849.80" y2="910.60" stroke="#4f4d4b" stroke-width="1.8" />
<line x1="778.40" y1="843.80" x2="778.40" y2="901.00" stroke="#9a9a9a" stroke-width="0.9" />
<line x1="768.60" y1="845.60" x2="788.40" y2="833.90" stroke="#9a9a9a" stroke-width="0.8" />
<line x1="771.00" y1="907.20" x2="791.00" y2="896.30" stroke="#9a9a9a" stroke-width="0.8" />
<line x1="797.90" y1="913.10" x2="859.20" y2="946.00" stroke="#9a9a9a" stroke-width="0.9" />
<line x1="793.50" y1="898.80" x2="793.50" y2="920.80" stroke="#9a9a9a" stroke-width="0.8" />
<line x1="863.40" y1="932.00" x2="863.40" y2="956.50" stroke="#9a9a9a" stroke-width="0.8" />
<line x1="868.60" y1="946.00" x2="936.90" y2="905.10" stroke="#9a9a9a" stroke-width="0.9" />
<line x1="940.00" y1="890.40" x2="940.00" y2="912.40" stroke="#9a9a9a" stroke-width="0.8" />
<text x="766.50" y="879.80" font-size="19" class="d it" text-anchor="middle" font-weight="bold" fill="#111">H</text>
<text x="817.70" y="948.10" font-size="19" class="d it" text-anchor="middle" font-weight="bold" fill="#111">W</text>
<text x="911.50" y="942.90" font-size="19" class="d it" text-anchor="middle" font-weight="bold" fill="#111">L</text>
</svg>
</body></html>
